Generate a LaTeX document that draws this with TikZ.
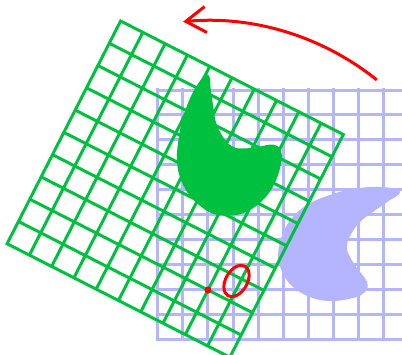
\documentclass[tikz,border=0pt]{standalone}
\usepackage{tikz}
\usetikzlibrary{arrows.meta}
\definecolor{gridlav}{RGB}{180,180,255}
\definecolor{gridgreen}{RGB}{0,192,64}

\begin{document}
\begin{tikzpicture}[x=25pt, y=25pt, line width=3pt]
\useasboundingbox (-6.32,-0.6) rectangle (9.76,13.6);
\clip (-6.32,-0.6) rectangle (9.76,13.6);
% Grid with its shape, then the same turned about the pivot
\foreach \ang/\col in {0/gridlav, 63/gridgreen} {
  \begin{scope}[rotate around={\ang:(2,2)}]
    \draw[\col, line cap=rect] (0,0) grid[step=1] (10,10);
    \fill[\col] plot[smooth cycle, tension=0.7] coordinates {
      (9.68,5.92) (8.96,6.12) (7.80,6.04) (6.76,5.76) (5.96,5.40)
      (5.40,4.92) (5.00,4.28) (4.80,3.36) (5.00,2.68) (5.40,2.12)
      (6.08,1.72) (6.88,1.56) (7.80,1.68) (8.28,1.92) (8.36,2.32)
      (7.96,2.88) (7.64,3.40) (7.56,3.76) (7.68,4.16) (8.08,4.72)
      (8.60,5.12) (9.16,5.52)};
  \end{scope}
}
% Turning arrow
\coordinate (pivot) at (2,2);
\draw[red, -{Straight Barb[length=20pt, width=26pt]}] (pivot) ++(51.2:10.78) arc (51.2:95.3:10.78);
% Pivot point and marked spot
\fill[red] (pivot) circle (0.14);
\draw[red, shift={(3.14,2.36)}, rotate=60] (0,0) ellipse (0.68 and 0.43);
\end{tikzpicture}
\end{document}
